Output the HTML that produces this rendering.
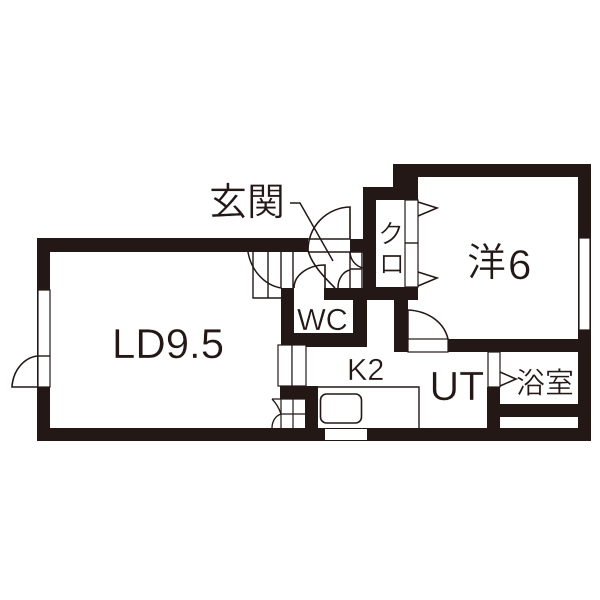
<!DOCTYPE html>
<html><head><meta charset="utf-8"><style>
html,body{margin:0;padding:0;background:#fff}
svg{display:block}
text{fill:#231815;font-family:"Liberation Sans","Noto Sans CJK JP",sans-serif;stroke:#fff;stroke-width:.35}
</style></head><body>
<svg width="600" height="600" viewBox="0 0 600 600" xmlns="http://www.w3.org/2000/svg">
<rect width="600" height="600" fill="#fff"/>
<g fill="#231815">
<rect x="37" y="238" width="271" height="14"/>
<rect x="37" y="238" width="13" height="203"/>
<rect x="37" y="428" width="554" height="13"/>
<rect x="350" y="239" width="14" height="13"/>
<rect x="363" y="187" width="13" height="113"/>
<rect x="363" y="187" width="32" height="13"/>
<rect x="393" y="164" width="198" height="13"/>
<rect x="393" y="164" width="25" height="36"/>
<rect x="578" y="164" width="13" height="277"/>
<rect x="363" y="287" width="55" height="13"/>
<rect x="323" y="288" width="44" height="12"/>
<rect x="394" y="300" width="14" height="52"/>
<rect x="394" y="339" width="197" height="13"/>
<rect x="281" y="288" width="13" height="59"/>
<rect x="353" y="288" width="14" height="59"/>
<rect x="281" y="333" width="86" height="14"/>
<rect x="280" y="386" width="38" height="13"/>
<rect x="305" y="386" width="13" height="50"/>
<rect x="487" y="387" width="13" height="45"/>
<rect x="487" y="404" width="104" height="13"/>
</g>
<g fill="#fff" stroke="#231815" stroke-width="1.2">
<rect x="38" y="290" width="12" height="97"/>
<rect x="579" y="238" width="11" height="92"/>
<rect x="325" y="429" width="42" height="11" stroke="none"/>
<rect x="294" y="288" width="30" height="12" stroke="none"/>
<rect x="408" y="339" width="40" height="13"/>
<rect x="405" y="200" width="13" height="87"/>
<rect x="488" y="352" width="12" height="35"/>
<rect x="278" y="345" width="14" height="41"/>
<rect x="292" y="345" width="14" height="41"/>
</g>
<g fill="none" stroke="#231815" stroke-width="1.4">
<path d="M38 356H50"/>
<path d="M405 243H418"/>
<path d="M37 387H12C13 370 24 358 37 356" stroke-width="1.6"/>
<path d="M308 239H350V207A43 43 0 0 0 308 250C311 264 325 278 335 288" stroke-width="1.6"/>
<path d="M308 252H363"/>
<path d="M350 252V288M362 252V288M350 269H362M293 252V288M281 252V288"/>
<path d="M350 252A17 17 0 0 0 363 268M350 270A14 18 0 0 0 338 288" stroke-width="1.5"/>
<path d="M253 252V298H281M268 252V298"/>
<path d="M248 252C251 270 264 285 281 288" stroke-width="1.5"/>
<path d="M294 288A31 23 0 0 1 325 265V288" stroke-width="1.6"/>
<path d="M290 203H300L333 261" stroke-width="1.5"/>
<path d="M408 310C428 311 444 322 448 339" stroke-width="1.6"/>
<path d="M408 310V339"/>
<path d="M418 202L437 208L418 216M418 272L437 278L418 286" stroke-width="1.6"/>
<path d="M500 372L516 379L500 386" stroke-width="1.6"/>
<path d="M318 387H419V428" stroke-width="1.4"/>
<rect x="320.500" y="394" width="41" height="29" rx="6" stroke-width="1.6"/>
<path d="M281 399V428M293 399V428M272 399H305M281 414H305" stroke-width="1.2"/>
<path d="M272 399C276 403 279 408 281 414C275 416 272 422 272 428" stroke-width="1.3"/>
</g>
<text x="112" y="358" font-size="42">LD9.5</text>
<text x="297" y="330" font-size="30.500">WC</text>
<text x="347" y="380" font-size="30.500">K2</text>
<text x="429.500" y="400" font-size="41">UT</text>
<text x="508" y="279" font-size="42">6</text>
<text x="467" y="276" font-size="39">洋</text>
<text x="516" y="393" font-size="29">浴室</text>
<text x="209" y="215" font-size="38">玄関</text>
<text x="378" y="243" font-size="26">ク</text>
<text x="379" y="273" font-size="26">ロ</text>
</svg>
</body></html>
